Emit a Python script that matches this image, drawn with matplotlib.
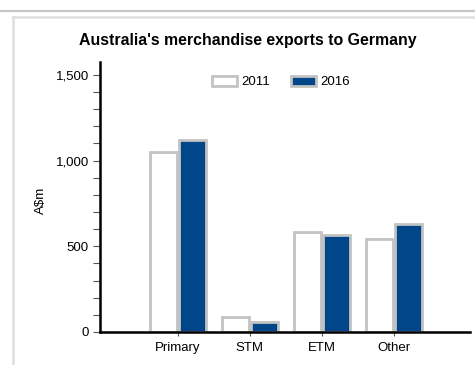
import matplotlib
matplotlib.use("Agg")
import matplotlib.pyplot as plt
from matplotlib.lines import Line2D
from matplotlib.patches import Patch
from matplotlib.ticker import MultipleLocator, FuncFormatter
import numpy as np

categories = ["Primary", "STM", "ETM", "Other"]
exports_2011 = [1050, 90, 585, 545]
exports_2016 = [1120, 60, 565, 630]
series_labels = ["2011", "2016"]

W, H = 475, 365
fig = plt.figure(figsize=(W / 100, H / 100), dpi=100)
plt.rcParams["font.family"] = ["Liberation Sans", "DejaVu Sans"]

# page frame lines
def px(x, y):
    return x / W, 1 - y / H

fig.add_artist(Line2D([0, 1], [px(0, 10.5)[1]] * 2, color="#c6c6c6", lw=1.6))
fig.add_artist(Line2D([px(13, 0)[0]] * 2, [px(0, 17)[1], 0], color="#dedede", lw=1.8))
fig.add_artist(Line2D([px(13, 0)[0], 1], [px(0, 17)[1]] * 2, color="#dedede", lw=1.8))

ax = fig.add_axes([100 / W, 1 - 332 / H, 370 / W, 270 / H])

x = np.arange(len(categories))
w = 0.375
edge = "#c3c3c3"
ax.bar(x - 0.2, exports_2011, width=w, color="white", edgecolor=edge, linewidth=2.0, zorder=2)
ax.bar(x + 0.2, exports_2016, width=w, color="#00478a", edgecolor=edge, linewidth=2.0, zorder=2)

ax.set_xlim(-1.08, 4.06)
ax.set_ylim(0, 1575)
ax.set_xticks(x)
ax.set_xticklabels(categories, fontsize=9.5)
ax.yaxis.set_major_locator(MultipleLocator(500))
ax.yaxis.set_minor_locator(MultipleLocator(100))
ax.yaxis.set_major_formatter(FuncFormatter(lambda v, p: f"{int(v):,}"))
ax.tick_params(axis="y", which="both", length=5, width=0.8, color="#555555", labelsize=9.5, pad=3)
ax.tick_params(axis="x", length=3, width=0.8, color="#555555", pad=4)

for s in ["top", "right"]:
    ax.spines[s].set_visible(False)
ax.spines["left"].set_linewidth(1.8)
ax.spines["bottom"].set_linewidth(1.8)

ax.set_ylabel("A$m", fontsize=9.5)
ax.yaxis.set_label_coords((47 - 100) / 370, (332 - 200) / 270)

fig.text(248 / W, 1 - 40 / H, "Australia's merchandise exports to Germany",
         ha="center", va="center", fontsize=11.4, fontweight="bold")

handles = [Patch(facecolor="white", edgecolor=edge, linewidth=2),
           Patch(facecolor="#00478a", edgecolor=edge, linewidth=2)]
fig.legend(handles, series_labels, loc="center", bbox_to_anchor=(281 / W, 1 - 82 / H),
           ncol=2, frameon=False, fontsize=9.5, handlelength=1.85, handleheight=0.85,
           columnspacing=1.6, handletextpad=0.35)

fig.savefig("out.png", dpi=100)
